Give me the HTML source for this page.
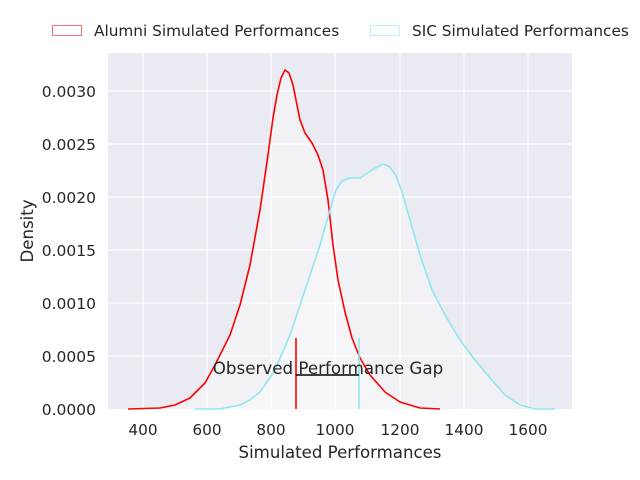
<!DOCTYPE html>
<html><head><style>body{margin:0;background:#fff}svg{display:block;font-family:"DejaVu Sans","Liberation Sans",sans-serif}</style></head><body>
<svg width="640" height="480" xmlns="http://www.w3.org/2000/svg">
<rect x="108" y="53" width="464" height="356" fill="#eaeaf2"/>
<g stroke="#fff" stroke-width="1.2">
<line x1="143" y1="53" x2="143" y2="409"/><line x1="207" y1="53" x2="207" y2="409"/><line x1="271" y1="53" x2="271" y2="409"/><line x1="335" y1="53" x2="335" y2="409"/><line x1="400" y1="53" x2="400" y2="409"/><line x1="464" y1="53" x2="464" y2="409"/><line x1="528" y1="53" x2="528" y2="409"/>
<line x1="108" y1="356" x2="572" y2="356"/><line x1="108" y1="303" x2="572" y2="303"/><line x1="108" y1="250" x2="572" y2="250"/><line x1="108" y1="197" x2="572" y2="197"/><line x1="108" y1="144" x2="572" y2="144"/><line x1="108" y1="91" x2="572" y2="91"/>
</g>
<path d="M128,409 L160,408 L175,405 L190,398 L205,383 L215,365 L230,335 L240,305 L250,265 L260,210 L268,155 L275,110 L281,78 L285,70 L289,75 L295,100 L300,125 L307,138 L315,150 L322,170 L330,220 L337,270 L345,310 L352,340 L360,358 L370,375 L385,392 L400,402 L420,408 L440,409 Z" fill="#fff" fill-opacity="0.35"/>
<path d="M195,409 L220,409 L240,405 L250,400 L260,392 L275,370 L290,335 L300,305 L310,275 L320,245 L330,210 L340,183 L348,180 L360,178 L372,170 L383,164 L392,170 L400,185 L410,220 L420,255 L432,290 L445,315 L460,340 L475,360 L490,378 L505,395 L520,405 L535,409 L555,409 Z" fill="#fff" fill-opacity="0.35"/>
<polyline fill="none" stroke="#ff0000" stroke-width="1.6" stroke-linejoin="round" points="128,409 160,408 175,405 190,398 205,383 215,365 230,335 240,305 250,265 260,210 268,155 273,118 277,95 281,78 285,70 289,73 293,85 297,105 300,120 305,133 312,143 318,155 323,170 328,200 333,245 338,280 345,312 352,338 360,358 370,375 385,392 400,402 420,408 440,409"/>
<polyline fill="none" stroke="#8ee8ee" stroke-width="1.6" stroke-linejoin="round" points="195,409 220,409 240,405 250,400 260,392 275,370 290,335 300,305 310,275 320,245 330,210 336,190 342,181 350,178 360,178 372,170 383,164 390,167 396,176 402,192 410,220 420,255 432,290 445,315 460,340 475,360 490,378 505,395 520,405 535,409 555,409"/>
<line x1="296" y1="338" x2="296" y2="409" stroke="#ff0000" stroke-width="1.6"/>
<line x1="359" y1="338" x2="359" y2="409" stroke="#8ee8ee" stroke-width="1.6"/>
<line x1="296" y1="375" x2="359" y2="375" stroke="#000" stroke-width="1.6"/>
<text x="328" y="374" font-size="16.7" fill="#262626" text-anchor="middle">Observed Performance Gap</text>
<g font-size="15.3" fill="#262626" text-anchor="middle">
<text x="143" y="435">400</text><text x="207" y="435">600</text><text x="271" y="435">800</text><text x="335" y="435">1000</text><text x="400" y="435">1200</text><text x="464" y="435">1400</text><text x="528" y="435">1600</text>
</g>
<g font-size="15.5" fill="#262626" text-anchor="end">
<text x="96" y="415">0.0000</text><text x="96" y="362">0.0005</text><text x="96" y="309">0.0010</text><text x="96" y="256">0.0015</text><text x="96" y="203">0.0020</text><text x="96" y="150">0.0025</text><text x="96" y="97">0.0030</text>
</g>
<text x="340" y="458" font-size="16.6" fill="#262626" text-anchor="middle">Simulated Performances</text>
<text transform="translate(33,231) rotate(-90)" font-size="16.6" fill="#262626" text-anchor="middle">Density</text>
<rect x="52.5" y="25.5" width="29" height="10" fill="#fff" fill-opacity="0.4" stroke="#ff7070"/>
<text x="94" y="36" font-size="15.3" fill="#262626">Alumni Simulated Performances</text>
<rect x="370.5" y="25.5" width="29" height="10" fill="#fff" fill-opacity="0.4" stroke="#bdf2f4"/>
<text x="412" y="36" font-size="15.3" fill="#262626">SIC Simulated Performances</text>
</svg>
</body></html>
